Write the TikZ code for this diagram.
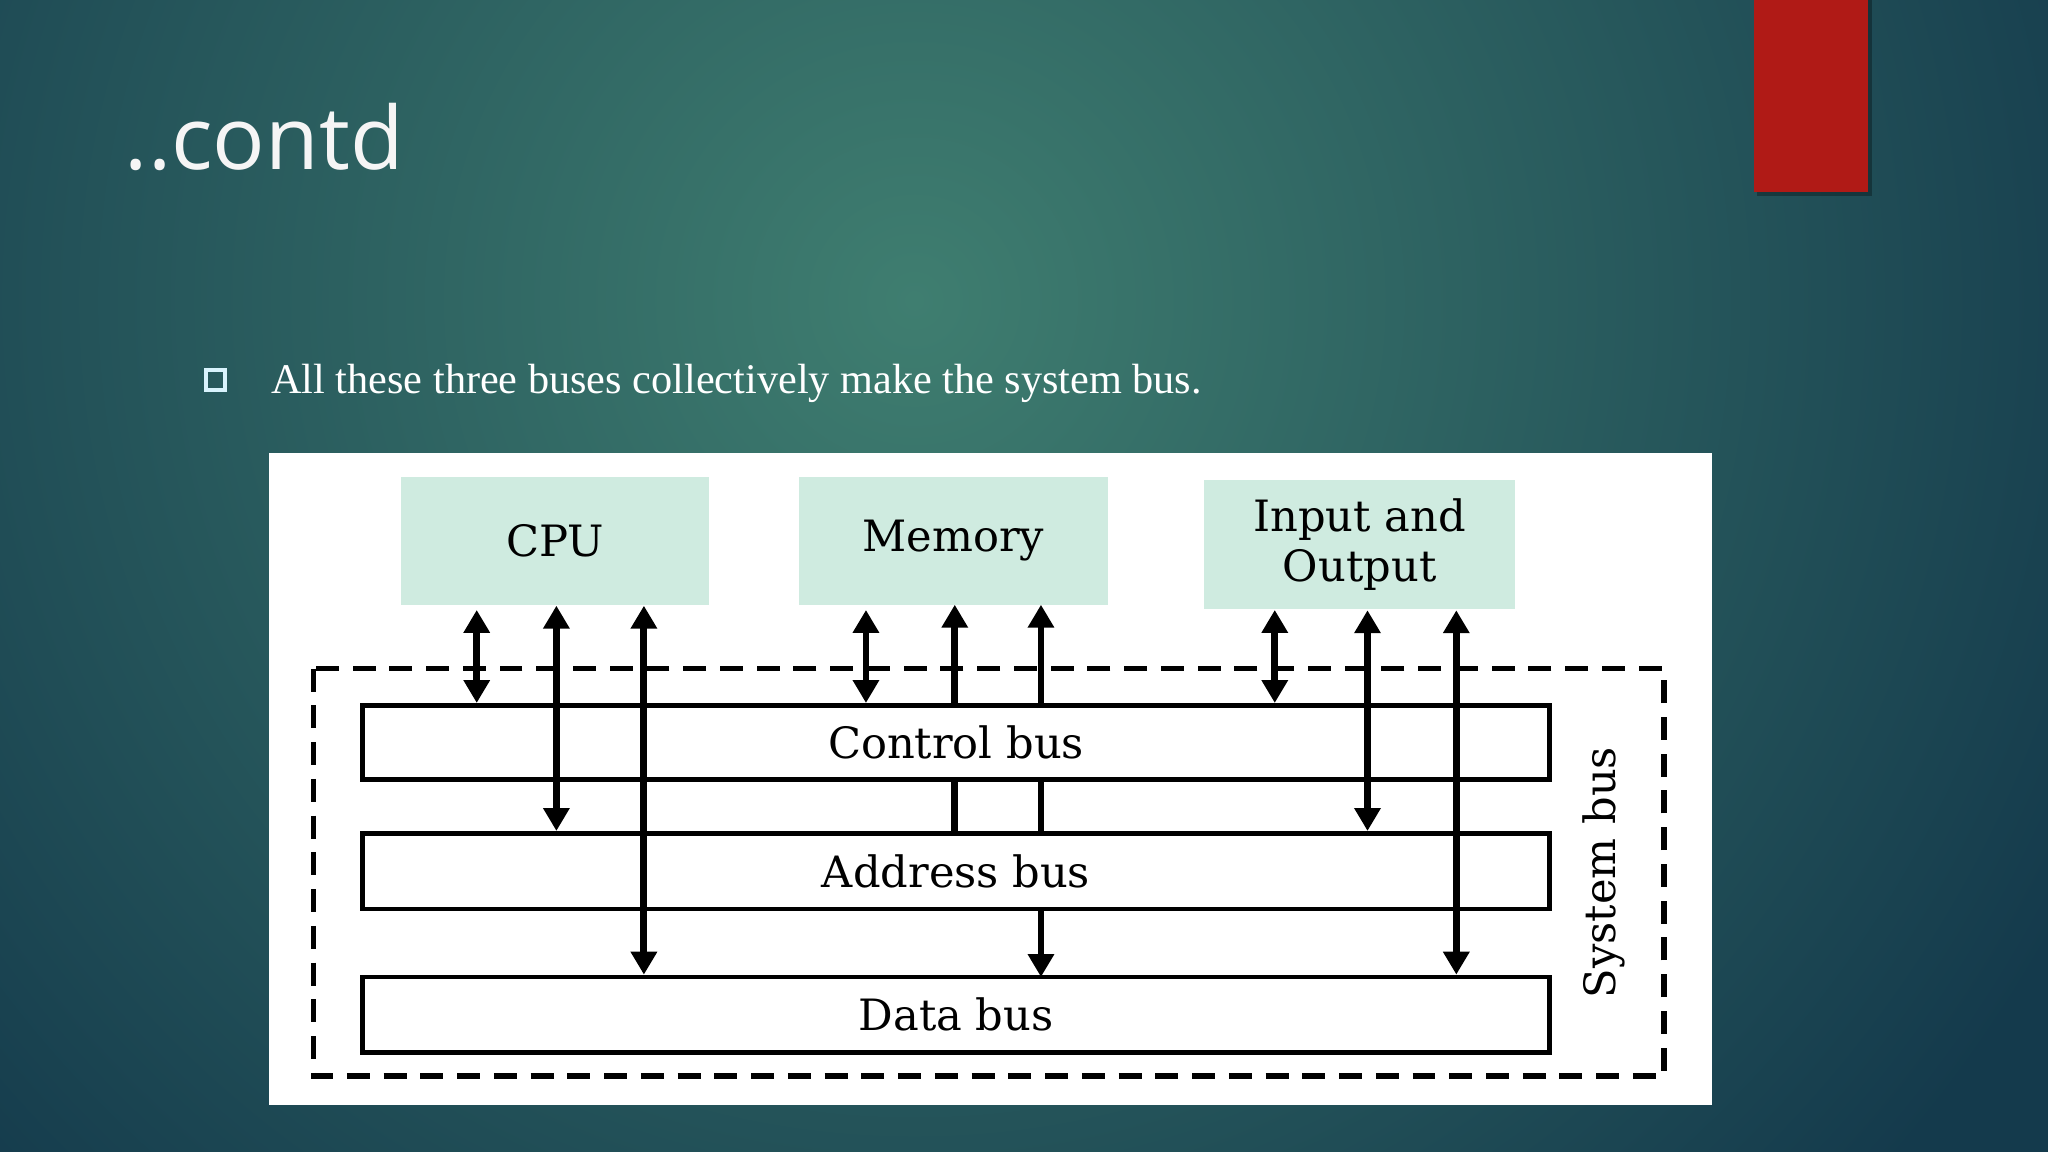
\documentclass[tikz,border=0pt]{standalone}
\usepackage{fontspec}
\setmainfont{Liberation Serif}
\newfontfamily\titlefont{Open Sans}
\newfontfamily\diagfont{DejaVu Serif}
\usetikzlibrary{arrows.meta}
\definecolor{bgin}{HTML}{3F7E70}
\definecolor{bgout}{HTML}{143A4C}
\definecolor{redbox}{HTML}{B01A16}
\definecolor{mint}{HTML}{CFEBE0}
\begin{document}
\begin{tikzpicture}[x=0.01cm,y=-0.01cm,
  comp/.style={fill=mint,draw=none,font=\diagfont\fontsize{9.4pt}{10pt}\selectfont,align=center,inner sep=0},
  bus/.style={draw=black,line width=1pt,fill=white,inner sep=0},
  arr/.style={line width=1.5pt,{Triangle[length=5pt,width=5.5pt]}-{Triangle[length=5pt,width=5.5pt]}},
  uarr/.style={line width=1.5pt,-{Triangle[length=5pt,width=5.5pt]}}]
\useasboundingbox (0,0) rectangle (1568,882);
\begin{scope}
\clip (0,0) rectangle (1568,882);
\fill[bgout] (0,0) rectangle (1568,882);
\shade[inner color=bgin,outer color=bgout] (700,230) circle (1000);
\end{scope}
% red rectangle
\fill[black,opacity=0.3] (1345,0) rectangle (1433,150);
\fill[redbox] (1343,0) rectangle (1430,147);
% title
\node[anchor=base west,inner sep=0,text=white!92!gray,font=\titlefont\fontsize{19pt}{22pt}\selectfont] (title) at (95,130) {..contd};
% bullet
\node[draw=white!85!cyan,line width=0.8pt,minimum size=0.15cm,inner sep=0] (blt) at (165,291) {};
\node[anchor=base west,inner sep=0,text=white,font=\fontsize{9.2pt}{11pt}\selectfont] (btext) at (207,301) {All these three buses collectively make the system bus.};
% panel
\fill[white] (206,347) rectangle (1311,846);
% components
\node[comp,minimum width=2.36cm,minimum height=0.98cm] (cpu) at (425,414) {CPU};
\node[comp,minimum width=2.37cm,minimum height=0.98cm] (mem) at (730,414) {Memory};
\node[comp,minimum width=2.38cm,minimum height=0.99cm,font=\diagfont\fontsize{9.4pt}{11pt}\selectfont] (io) at (1041,417) {Input and\\Output};
% dashed system bus
\draw[line width=1.2pt,dash pattern=on 5pt off 3pt] (240,512) rectangle (1274,824);
% coordinates
\coordinate (c1) at (365,467); \coordinate (m1) at (663,467); \coordinate (i1) at (976,467);
% memory hidden arrows
\draw[uarr] (731,638) -- (731,463);
\draw[arr] (797,748) -- (797,463);
% buses
\node[bus,minimum width=9.08cm,minimum height=0.57cm,font=\diagfont\fontsize{9.4pt}{10pt}\selectfont] (cb) at (732,568.5) {Control bus};
\node[bus,minimum width=9.08cm,minimum height=0.58cm,font=\diagfont\fontsize{9.4pt}{10pt}\selectfont] (ab) at (732,667) {Address bus};
\node[bus,minimum width=9.08cm,minimum height=0.58cm,font=\diagfont\fontsize{9.4pt}{10pt}\selectfont] (db) at (732,777) {Data bus};
\node[rotate=90,font=\diagfont\fontsize{9.4pt}{10pt}\selectfont,inner sep=0] (sys) at (1228,668) {System bus};
% arrows
\draw[arr] (c1) -- (cb.north -| c1);
\draw[arr] (cpu.south -| 426,0) -- (ab.north -| 426,0);
\draw[arr] (cpu.south -| 493,0) -- (db.north -| 493,0);
\draw[arr] (m1) -- (cb.north -| m1);
\draw[arr] (i1) -- (cb.north -| i1);
\draw[arr] (io.south -| 1047,0) -- (ab.north -| 1047,0);
\draw[arr] (io.south -| 1115,0) -- (db.north -| 1115,0);
\end{tikzpicture}
\end{document}
